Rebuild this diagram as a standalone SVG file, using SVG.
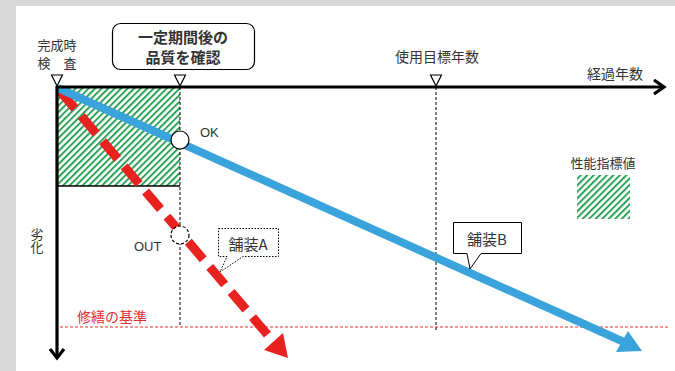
<svg xmlns="http://www.w3.org/2000/svg" width="675" height="371" viewBox="0 0 675 371">
<defs>
<style>
.t{font-family:"Noto Sans CJK JP","Liberation Sans",sans-serif;fill:#333;}
.l{font-family:"Liberation Sans","Noto Sans CJK JP",sans-serif;fill:#333;}
.vd{stroke:#000;stroke-width:1;stroke-dasharray:3 2;fill:none;}
.tri{fill:#fff;stroke:#000;stroke-width:1.2;}
</style>
<pattern id="hatch" width="4.6" height="4.6" patternUnits="userSpaceOnUse" patternTransform="rotate(45)">
<rect width="4.6" height="4.6" fill="#fff"/>
<rect x="0" y="0" width="2" height="4.6" fill="#2ea35a"/>
</pattern>
</defs>
<rect width="675" height="371" fill="#d9d9d9"/>
<rect x="16" y="6" width="659" height="365" fill="#fff"/>

<g id="performance-area">
<rect x="57" y="87" width="123" height="99" fill="url(#hatch)"/>
<line x1="57" y1="186" x2="180" y2="186" stroke="#000" stroke-width="1.5"/>
</g>

<g id="guides">
<line class="vd" x1="180" y1="87" x2="180" y2="327"/>
<line class="vd" x1="436" y1="87" x2="436" y2="331"/>
<line x1="60" y1="327" x2="668" y2="327" stroke="#e03030" stroke-width="1" stroke-dasharray="3 2"/>
</g>

<g id="connectors">
<line x1="60" y1="91" x2="272" y2="340" stroke="#e8231f" stroke-width="9" stroke-dasharray="23 10"/>
<polygon points="288,358 264,350 283,333" fill="#e8231f"/>
<line x1="58" y1="88" x2="624" y2="342" stroke="#3aa3dc" stroke-width="8"/>
<polygon points="642,351 616,352 628,331" fill="#3aa3dc"/>
</g>

<g id="axes">
<line x1="57" y1="87" x2="664" y2="87" stroke="#000" stroke-width="3.2"/>
<polyline points="654,80 664,87 654,94" fill="none" stroke="#000" stroke-width="3.2"/>
<line x1="57" y1="86" x2="57" y2="358" stroke="#000" stroke-width="3.2"/>
<polyline points="50,349 57,358 64,349" fill="none" stroke="#000" stroke-width="3.2"/>
<text class="t" x="615" y="79" font-size="14" text-anchor="middle">経過年数</text>
<text class="t" x="37" y="228" font-size="13" writing-mode="vertical-rl" style="writing-mode:vertical-rl">劣化</text>
</g>

<g id="completion">
<polygon class="tri" points="51.5,75 62.5,75 57,86"/>
<text class="t" x="57" y="50" font-size="13" text-anchor="middle">完成時</text>
<text class="t" x="57" y="68" font-size="13" text-anchor="middle">検　査</text>
</g>

<g id="check">
<polygon class="tri" points="174.5,75 185.5,75 180,86"/>
<rect x="112.5" y="23.5" width="142" height="46" rx="8" fill="#fff" stroke="#000" stroke-width="1.2"/>
<text class="t" x="183" y="43" font-size="15" font-weight="bold" text-anchor="middle" fill="#222">一定期間後の</text>
<text class="t" x="183" y="63" font-size="15" font-weight="bold" text-anchor="middle" fill="#222">品質を確認</text>
</g>

<g id="target">
<polygon class="tri" points="430.5,75 441.5,75 436,86"/>
<text class="t" x="437" y="62" font-size="14" text-anchor="middle">使用目標年数</text>
</g>

<g id="ok">
<circle cx="180" cy="140" r="9" fill="#fff" stroke="#000" stroke-width="1.2"/>
<text class="l" x="200" y="137" font-size="13">OK</text>
</g>

<g id="out">
<circle cx="180" cy="235" r="9" fill="#fff" stroke="#000" stroke-width="1.2" stroke-dasharray="3 2"/>
<text class="l" x="134" y="251" font-size="13">OUT</text>
</g>

<g id="repair">
<text class="t" x="77" y="322" font-size="14" style="fill:#e03030">修繕の基準</text>
</g>

<g id="paveA">
<path d="M218.5,228.5 H278.5 V256.5 H243 L220,272 L227,256.5 H218.5 Z" fill="#fff" stroke="#000" stroke-width="1" stroke-dasharray="1.5 1.5"/>
<text class="t" x="248" y="250" font-size="15" text-anchor="middle">舗装A</text>
</g>

<g id="paveB">
<path d="M453.5,222.5 H521.5 V253.5 H481 L470,269 L467,253.5 H453.5 Z" fill="#fff" stroke="#000" stroke-width="1"/>
<text class="t" x="487" y="245" font-size="15" text-anchor="middle">舗装B</text>
</g>

<g id="legend">
<text class="t" x="603" y="168" font-size="13" text-anchor="middle">性能指標値</text>
<rect x="577" y="175" width="53" height="44" fill="url(#hatch)"/>
</g>
</svg>
